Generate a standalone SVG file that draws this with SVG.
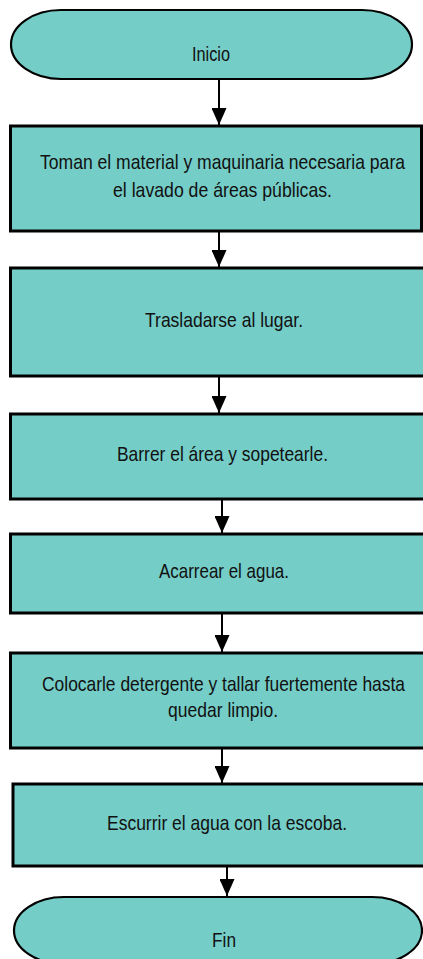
<svg xmlns="http://www.w3.org/2000/svg" width="423" height="959" viewBox="0 0 423 959">
<style>
.box{fill:#75cdc7;stroke:#000;stroke-width:3}
.term{fill:#75cdc7;stroke:#000;stroke-width:2.2}
.t{font-family:"Liberation Sans Narrow","Liberation Sans",Arial,sans-serif;font-size:21px;fill:#111;text-anchor:middle}
.c{stroke:#000;stroke-width:2;fill:none;marker-end:url(#ah)}
</style>
<defs>
<marker id="ah" viewBox="0 0 17 15" refX="17" refY="7.5" markerWidth="17" markerHeight="15" orient="auto" markerUnits="userSpaceOnUse">
<path d="M0,0 L17,7.5 L0,15 Z" fill="#000"/>
</marker>
</defs>
<rect width="423" height="959" fill="#fff"/>
<g id="connectors">
<line class="c" x1="219" y1="80" x2="219" y2="125"/>
<line class="c" x1="219" y1="232" x2="219" y2="267"/>
<line class="c" x1="219" y1="377" x2="219" y2="413"/>
<line class="c" x1="222" y1="499" x2="222" y2="533"/>
<line class="c" x1="222" y1="614" x2="222" y2="652"/>
<line class="c" x1="222" y1="749" x2="222" y2="783"/>
<line class="c" x1="227" y1="867" x2="227" y2="896"/>
</g>
<g id="inicio">
<path class="term" d="M61,10 H362 A50,34.5 0 0 1 362,79 H61 A50,34.5 0 0 1 61,10 Z"/>
<text class="t" x="211" y="61" font-size="20" textLength="38" lengthAdjust="spacingAndGlyphs">Inicio</text>
</g>
<g id="paso1">
<rect class="box" x="10.5" y="126" width="411" height="105"/>
<text class="t" x="222.5" y="169" textLength="365" lengthAdjust="spacingAndGlyphs">Toman el material y maquinaria necesaria para</text>
<text class="t" x="222.5" y="197" textLength="219" lengthAdjust="spacingAndGlyphs">el lavado de áreas públicas.</text>
</g>
<g id="paso2">
<rect class="box" x="10.5" y="268" width="416" height="108"/>
<text class="t" x="224" y="327" textLength="158" lengthAdjust="spacingAndGlyphs">Trasladarse al lugar.</text>
</g>
<g id="paso3">
<rect class="box" x="10.5" y="414" width="416" height="85"/>
<text class="t" x="222.5" y="461" textLength="211" lengthAdjust="spacingAndGlyphs">Barrer el área y sopetearle.</text>
</g>
<g id="paso4">
<rect class="box" x="10.5" y="534" width="416" height="79"/>
<text class="t" x="224" y="578" textLength="130" lengthAdjust="spacingAndGlyphs">Acarrear el agua.</text>
</g>
<g id="paso5">
<rect class="box" x="10.5" y="653" width="416" height="95"/>
<text class="t" x="223.5" y="691" textLength="363" lengthAdjust="spacingAndGlyphs">Colocarle detergente y tallar fuertemente hasta</text>
<text class="t" x="223" y="717" textLength="110" lengthAdjust="spacingAndGlyphs">quedar limpio.</text>
</g>
<g id="paso6">
<rect class="box" x="13" y="784" width="414" height="82"/>
<text class="t" x="227" y="830" textLength="240" lengthAdjust="spacingAndGlyphs">Escurrir el agua con la escoba.</text>
</g>
<g id="fin">
<path class="term" d="M64,897 H372 A50,33.5 0 0 1 372,964 H64 A50,33.5 0 0 1 64,897 Z"/>
<text class="t" x="224" y="947" font-size="20" textLength="24" lengthAdjust="spacingAndGlyphs">Fin</text>
</g>
</svg>
